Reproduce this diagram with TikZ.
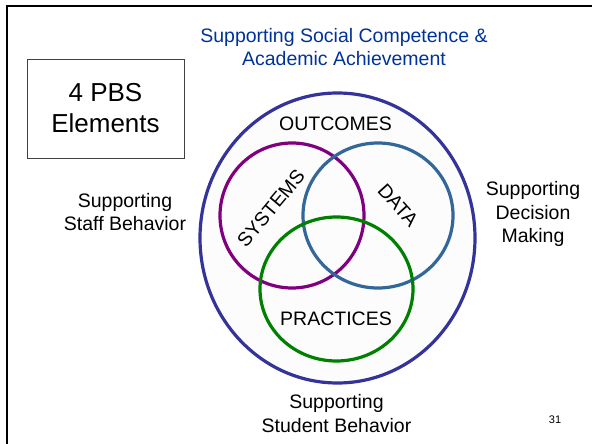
\documentclass[tikz,border=0pt]{standalone}
\usepackage{fontspec}
\setmainfont{Liberation Sans}
\usepackage{tikz}
\usetikzlibrary{shapes.geometric}
\definecolor{titleblue}{RGB}{0,51,153}
\definecolor{outerblue}{RGB}{51,51,153}
\definecolor{syspurple}{RGB}{128,0,128}
\definecolor{datablue}{RGB}{51,102,153}
\definecolor{pracgreen}{RGB}{0,128,0}
\tikzstyle{ring}=[ellipse, line width=3.2pt, inner sep=0pt]
\tikzstyle{txt}=[align=center, inner sep=0pt, font=\fontsize{19.5}{23.5}\selectfont]

\begin{document}
\begin{tikzpicture}[x=1pt, y=-1pt]
\useasboundingbox (0,0) rectangle (592,444);
\coordinate (frame_bl) at (7.3,444);
\coordinate (frame_tl) at (7.3,6.2);
\coordinate (frame_tr) at (592,6.2);
\draw[line width=2.2pt] (frame_bl)--(frame_tl)--(frame_tr);

\node[ring, draw=outerblue, fill=black!1, minimum width=275pt, minimum height=290pt] (outcomes) at (337.5,238) {};
\node[ring, draw=syspurple, minimum width=144pt, minimum height=145pt] (systems) at (292,215.5) {};
\node[ring, draw=datablue, minimum width=150pt, minimum height=145pt] (data) at (378,215.5) {};
\node[ring, draw=pracgreen, minimum width=153pt, minimum height=144pt] (practices) at (336.5,289) {};

\node[draw=black!75, line width=0.9pt, minimum width=157pt, minimum height=99pt, align=center, font=\fontsize{26}{31}\selectfont] (pbs) at (105.5,108.5) {4 PBS\\Elements};

\node[txt, text=titleblue] (goal) at (344,47) {Supporting Social Competence \&\\Academic Achievement};
\node[txt] (outcomes_lbl) at (335.5,124) {OUTCOMES};
\node[txt, rotate=50] (systems_lbl) at (271,208) {SYSTEMS};
\node[txt, rotate=-48] (data_lbl) at (398,205) {DATA};
\node[txt] (practices_lbl) at (336,318.5) {PRACTICES};

\node[txt] (staff) at (125,212) {Supporting\\Staff Behavior};
\node[txt] (decision) at (533,214) {Supporting\\Decision\\Making};
\node[txt] (student) at (336.5,413.5) {Supporting\\Student Behavior};
\node[font=\fontsize{11}{13}\selectfont, inner sep=0pt] (page) at (555,420) {31};
\end{tikzpicture}
\end{document}
